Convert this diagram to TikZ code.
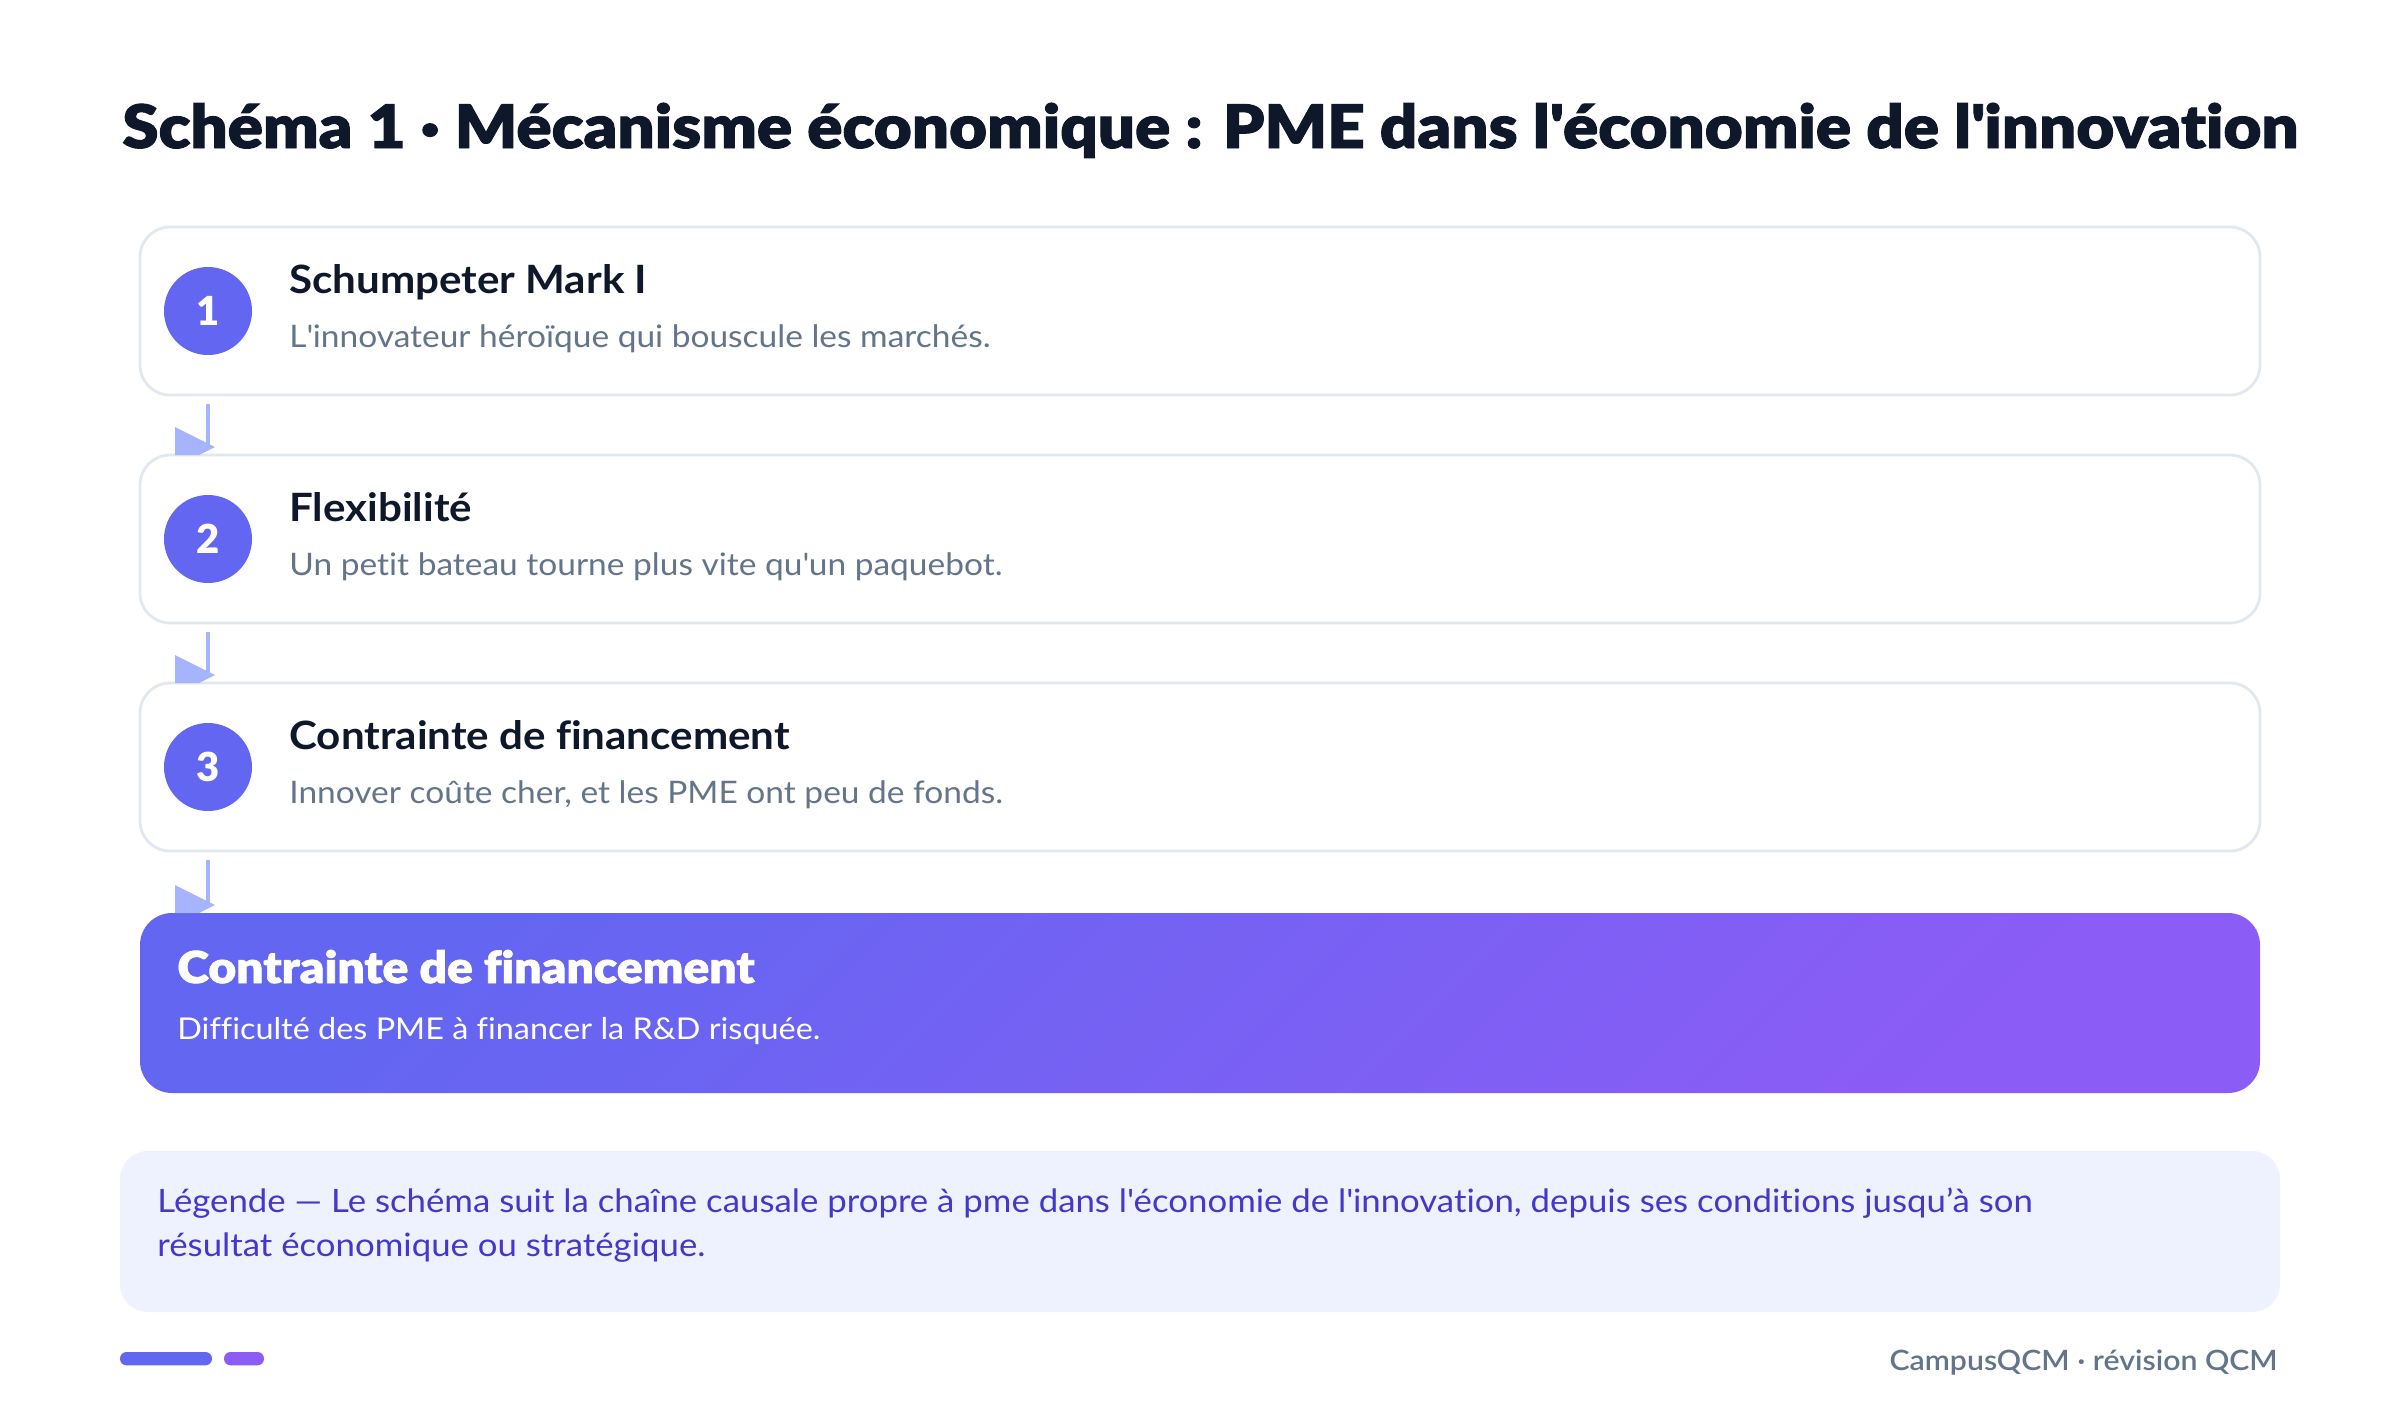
\documentclass[tikz,border=0pt]{standalone}
\usepackage{fontspec}
\setmainfont{Lato}[FakeStretch=1.08, Ligatures=NoCommon]
\newfontfamily\blackfont{Lato Black}[FakeStretch=1.09, FakeBold=1.6, Ligatures=NoCommon]
\newfontfamily\digitfont{Lato Black}[Ligatures=NoCommon]
\newfontfamily\semifont{Lato Semibold}[FakeStretch=1.08, Ligatures=NoCommon]
\usetikzlibrary{calc}
\definecolor{ink}{HTML}{0F172A}
\definecolor{muted}{HTML}{64748B}
\definecolor{cardline}{HTML}{E2E8F0}
\definecolor{indigo}{HTML}{6366F1}
\definecolor{violet}{HTML}{8B5CF6}
\definecolor{arrowc}{HTML}{A5B4FC}
\definecolor{legbg}{HTML}{EEF2FF}
\definecolor{legtext}{HTML}{4338CA}
\newcommand{\myapos}{\textquotesingle}
\begin{document}
\begin{tikzpicture}[x=0.5pt,y=-0.5pt,
  card/.style={rectangle, draw=cardline, line width=1.4pt, fill=white, rounded corners=15pt,
    minimum width=1060pt, minimum height=84pt, inner sep=0pt, outer sep=0pt, anchor=north west},
  badge/.style={circle, fill=indigo, minimum size=44pt, inner sep=0pt, text=white,
    font=\digitfont\fontsize{20pt}{24pt}\selectfont},
  steptitle/.style={anchor=base west, inner sep=0pt, text=ink, font=\bfseries\fontsize{19.5pt}{23pt}\selectfont},
  stepdesc/.style={anchor=base west, inner sep=0pt, text=muted, font=\fontsize{15.5pt}{19pt}\selectfont},
  arrowline/.style={draw=arrowc, line width=2pt},
  arrowhead/.style={fill=arrowc},
  plain/.style={anchor=base west, inner sep=0pt}
]
\useasboundingbox (0,0) rectangle (2400,1420);
\fill[white] (0,0) rectangle (2400,1420);

% title
\node[plain, text=ink, font=\blackfont\fontsize{30pt}{36pt}\selectfont] (title) at (122,148)
  {Schéma 1 · Mécanisme économique : PME dans l\myapos économie de l\myapos innovation};

% cards
\node[card] (b1) at (140,227) {};
\node[card] (b2) at (140,455) {};
\node[card] (b3) at (140,683) {};
\node[rectangle, rounded corners=16pt, minimum width=1060pt, minimum height=90pt, inner sep=0pt,
  outer sep=0pt, anchor=north west, top color=indigo, bottom color=violet, shading angle=45] (fin) at (140,913) {};

% badges
\node[badge] (n1) at (208,311) {1};
\node[badge] (n2) at (208,539) {2};
\node[badge] (n3) at (208,767) {3};

% texts
\node[steptitle] (h1) at (289,293) {Schumpeter Mark I};
\node[stepdesc] (d1) at (289,347) {L\myapos innovateur héroïque qui bouscule les marchés.};
\node[steptitle] (h2) at (289,521) {Flexibilité};
\node[stepdesc] (d2) at (289,575) {Un petit bateau tourne plus vite qu\myapos un paquebot.};
\node[steptitle] (h3) at (289,749) {Contrainte de financement};
\node[stepdesc] (d3) at (289,803) {Innover coûte cher, et les PME ont peu de fonds.};

\node[plain, text=white, font=\blackfont\fontsize{22pt}{26pt}\selectfont] (fh) at (177,983) {Contrainte de financement};
\node[plain, text=white, font=\fontsize{15pt}{19pt}\selectfont] (fd) at (177,1039) {Difficulté des PME à financer la R\&D risquée.};

% arrows
\foreach \a/\b in {b1/b2, b2/b3, b3/fin}{
  \coordinate (t) at (\b.north -| n1.center);
  \draw[arrowline] ($(\a.south -| n1.center)+(0,9)$) -- ($(t)+(0,-8)$);
  \fill[arrowhead] ($(t)+(-33,-28)$) -- ($(t)+(7,-8)$) -- ($(t)+(-9,0)$) -- ($(t)+(-33,0)$) -- cycle;
}

% legend
\node[rectangle, rounded corners=14pt, fill=legbg, minimum width=1080pt, minimum height=80.5pt,
  inner sep=0pt, outer sep=0pt, anchor=north west] (leg) at (120,1151) {};
\node[plain, text=legtext, font=\fontsize{16.1pt}{20pt}\selectfont] (l1) at (157,1212)
  {Légende — Le schéma suit la chaîne causale propre à pme dans l\myapos économie de l\myapos innovation, depuis ses conditions jusqu’à son};
\node[plain, text=legtext, font=\fontsize{16.1pt}{20pt}\selectfont] (l2) at (157,1256)
  {résultat économique ou stratégique.};

% footer
\node[rectangle, rounded corners=3.3pt, fill=indigo, minimum width=46pt, minimum height=6.7pt,
  inner sep=0pt, outer sep=0pt, anchor=north west] (bar1) at (120,1352) {};
\node[rectangle, rounded corners=3.3pt, fill=violet, minimum width=20pt, minimum height=6.7pt,
  inner sep=0pt, outer sep=0pt, anchor=north west] (bar2) at (224,1352) {};
\node[anchor=base east, inner sep=0pt, text=muted, font=\semifont\fontsize{14pt}{17pt}\selectfont] (foot) at (2278,1370)
  {CampusQCM · révision QCM};
\end{tikzpicture}
\end{document}
